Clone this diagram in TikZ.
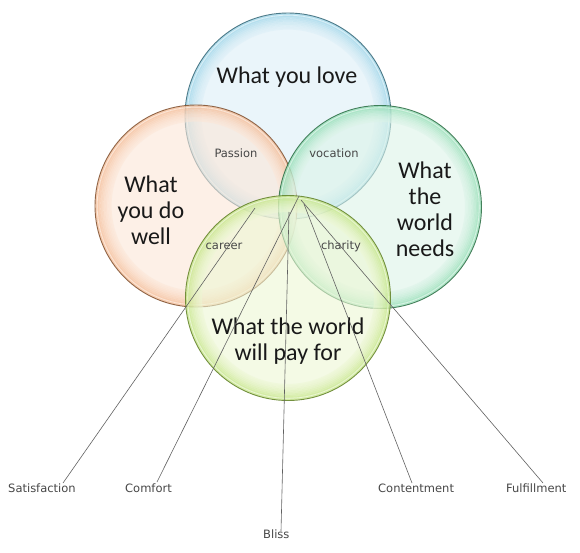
\documentclass[tikz,border=0pt]{standalone}
\usepackage{fontspec}
\setmainfont{Carlito}
\newfontfamily\smallfont{DejaVu Sans}
\definecolor{blueIn}{HTML}{DCEFF7}
\definecolor{blueOut}{HTML}{7CC8E2}
\definecolor{blueLine}{HTML}{2F6475}
\definecolor{orIn}{HTML}{FCE6D7}
\definecolor{orOut}{HTML}{F2A774}
\definecolor{orLine}{HTML}{7E4B28}
\definecolor{grIn}{HTML}{DCF4E8}
\definecolor{grOut}{HTML}{6FD49C}
\definecolor{grLine}{HTML}{266B40}
\definecolor{yeIn}{HTML}{EDF7D4}
\definecolor{yeOut}{HTML}{B2DE60}
\definecolor{yeLine}{HTML}{5E7F22}
\begin{document}
\begin{tikzpicture}[x=1pt,y=-1pt,
  bubble/.style n args={4}{circle, inner sep=0pt, minimum size=#1, fill=#2, fill opacity=0.6,
    draw=#4, draw opacity=0.85, line width=0.9pt,
    path picture={
      \foreach \k in {0,...,9}{
        \pgfmathtruncatemacro\pct{100*(1-\k/10)^1.6}
        \draw[#3!\pct!#2, opacity=0.5, line width=1.8pt]
          (path picture bounding box.center) circle ({#1/2 - 1.3pt - \k*1.6pt});
      }
      \draw[white, opacity=0.55, line width=0.8pt]
          (path picture bounding box.center) circle ({#1/2 - 2.2pt});
    }},
  big/.style={font=\fontsize{24}{26}\selectfont, text=black!90, align=center, inner sep=0pt},
  small/.style={font=\smallfont\fontsize{11.5}{13}\selectfont, text=black!72, inner sep=0pt},
  ray/.style={draw=black!62, line width=0.6pt}]
\useasboundingbox[fill=white] (0,0) rectangle (580,552);
% circles
\node[bubble={206pt}{blueIn}{blueOut}{blueLine}] (love) at (288,116) {};
\node[bubble={202pt}{orIn}{orOut}{orLine}] (well) at (196,206) {};
\node[bubble={203pt}{grIn}{grOut}{grLine}] (needs) at (380,207) {};
\node[bubble={205pt}{yeIn}{yeOut}{yeLine}] (pay) at (288,298) {};
% main texts
\node[big, anchor=base] (tlove) at (287,83) {What you love};
\node[big] (twell) at (151,210) {What\\you do\\well};
\node[big] (tneeds) at (425,209) {What\\the\\world\\needs};
\node[big] (tpay) at (288,341) {What the world\\will pay for};
% intersection labels
\node[small, anchor=base] (passion) at (236,157) {Passion};
\node[small, anchor=base] (vocation) at (334,157) {vocation};
\node[small, anchor=base] (career) at (224,249) {career};
\node[small, anchor=base] (charity) at (341,249) {charity};
% outcome labels
\node[small, anchor=base west] (sat) at (8,492) {Satisfaction};
\node[small, anchor=base west] (comf) at (125,492) {Comfort};
\node[small, anchor=base west] (bliss) at (263,538) {Bliss};
\node[small, anchor=base west] (cont) at (378,492) {Contentment};
\node[small, anchor=base west] (fulf) at (506,492) {Fulfillment};
% ray ends
\coordinate (sTop) at (255,208);
\coordinate (sEnd) at (63,483);
\coordinate (cTop) at (299,196);
\coordinate (cEnd) at (157,482);
\coordinate (bTop) at (289,212);
\coordinate (bEnd) at (281,531);
\coordinate (tTop) at (304,204);
\coordinate (tEnd) at (412,483);
\coordinate (fTop) at (301,200);
\coordinate (fEnd) at (543,483);
\draw[ray] (sTop) -- (sEnd);
\draw[ray] (cTop) -- (cEnd);
\draw[ray] (bTop) -- (bEnd);
\draw[ray] (tTop) -- (tEnd);
\draw[ray] (fTop) -- (fEnd);
\end{tikzpicture}
\end{document}
